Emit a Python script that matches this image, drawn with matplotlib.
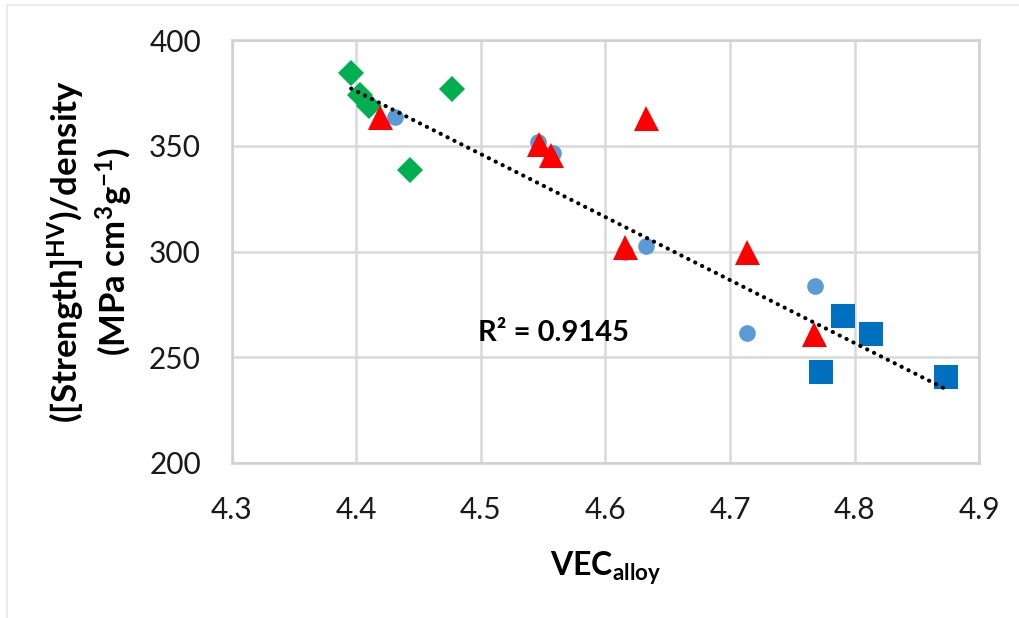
import numpy as np
import matplotlib.pyplot as plt
from matplotlib.lines import Line2D

plt.rcParams["font.family"] = ["Lato", "DejaVu Sans"]
plt.rcParams["mathtext.default"] = "regular"

# VEC vs specific hardness, grouped by alloy family
vec_diamond = [4.396, 4.403, 4.410, 4.477, 4.443]
str_diamond = [384.7, 374.0, 369.0, 376.7, 338.8]

vec_circle = [4.4315, 4.546, 4.558, 4.6326, 4.6155, 4.768, 4.714]
str_circle = [363.7, 351.9, 346.4, 302.5, 299.7, 283.6, 261.5]

vec_triangle = [4.419, 4.547, 4.556, 4.6326, 4.616, 4.7134, 4.7674]
str_triangle = [363.7, 351.1, 345.6, 363.0, 302.2, 299.8, 261.2]

vec_square = [4.791, 4.813, 4.773, 4.873]
str_square = [269.4, 260.8, 243.1, 240.7]

# linear trendline (slope, intercept) and its fit quality
trend_slope = -298.0
trend_intercept = 1687.1
trend_range = [4.396, 4.873]
r_squared = 0.9145

fig = plt.figure(figsize=(10.2, 6.18), dpi=100)
ax = fig.add_axes([0.227, 0.251, 0.733, 0.684])

ax.plot(vec_diamond, str_diamond, "D", color="#00B050", ms=13, mew=0, zorder=3)
ax.plot(vec_circle, str_circle, "o", color="#5B9BD5", ms=12, mew=0, zorder=3)
ax.plot(vec_triangle, str_triangle, "^", color="#FF0000", ms=18, mew=0, zorder=3)
ax.plot(vec_square, str_square, "s", color="#0070C0", ms=17, mew=0, zorder=3)

tx = np.array(trend_range)
ax.plot(tx, trend_slope * tx + trend_intercept, color="black", lw=3.0,
        linestyle=(0, (0.05, 1.8)), dash_capstyle="round", zorder=4)

ax.text(4.558, 261.4, f"R² = {r_squared}", fontsize=21, fontweight="bold",
        ha="center", va="center")

ax.set_xlim(4.3, 4.9)
ax.set_ylim(200, 400)
xt = np.arange(4.3, 4.95, 0.1)
ax.set_xticks(xt)
ax.set_xticklabels([f"{v:.1f}" for v in xt])
ax.set_yticks(np.arange(200, 401, 50))
ax.grid(True, color="#D9D9D9", lw=1.8)
ax.set_axisbelow(True)
for s in ax.spines.values():
    s.set_color("#D0D0D0")
    s.set_linewidth(1.8)
ax.tick_params(length=0, labelsize=21.5, colors="#1a1a1a")
ax.tick_params(axis="x", pad=24)
ax.tick_params(axis="y", pad=22)

ax.set_xlabel("VEC$_{alloy}$", fontsize=23, fontweight="bold", labelpad=18)
ax.set_ylabel("([Strength]$^{HV}$)/density\n(MPa cm$^{3}$g$^{-1}$)",
              fontsize=25, fontweight="bold", labelpad=10, linespacing=1.2)

# faint outer frame on the top and left edges
fig.add_artist(Line2D([0.007, 1.0], [0.992, 0.992], color="#E8E8E8", lw=1.2))
fig.add_artist(Line2D([0.007, 0.007], [0.0, 0.992], color="#E8E8E8", lw=1.2))

fig.savefig("out.png", dpi=100)
